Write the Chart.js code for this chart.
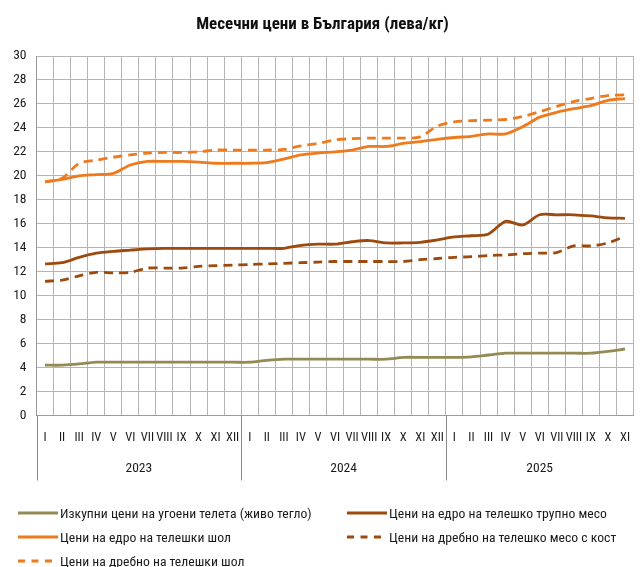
<!DOCTYPE html>
<html>
<head>
<meta charset="utf-8">
<script src="https://cdn.jsdelivr.net/npm/chart.js@4.4.1/dist/chart.umd.min.js"></script>
<style>
  html, body { margin: 0; padding: 0; background: #fff; overflow: hidden; }
  #wrap { position: relative; width: 642px; height: 567px; overflow: hidden; }
  #chart { position: absolute; left: 0; top: 0; }
  .lg { position: absolute; height: 18px; display: flex; align-items: center; white-space: nowrap;
        font-family: 'Roboto Condensed', 'Liberation Sans Narrow', sans-serif;
        font-size: 13.7px; color: #1a1a1a; }
  .lg svg { margin-right: 2px; }
</style>
</head>
<body>
<div id="wrap">
  <canvas id="chart" width="645" height="567"></canvas>
  <div id="legend"></div>
</div>
<script>
// Данни: месечни цени (лева/кг)
var months = ['I', 'II', 'III', 'IV', 'V', 'VI', 'VII', 'VIII', 'IX', 'X', 'XI', 'XII'];
var years = ['2023', '2024', '2025'];
var monthsPerYear = [12, 12, 11];

var seriesNames = [
    'Изкупни цени на угоени телета (живо тегло)',
    'Цени на едро на телешко трупно месо',
    'Цени на едро на телешки шол',
    'Цени на дребно на телешко месо с кост',
    'Цени на дребно на телешки шол'
];

var liveWeight = [
    4.2, 4.2, 4.3, 4.45, 4.45, 4.45, 4.45, 4.45, 4.45, 4.45, 4.45, 4.45,
    4.45, 4.6, 4.7, 4.7, 4.7, 4.7, 4.7, 4.7, 4.7, 4.85, 4.85, 4.85,
    4.85, 4.9, 5.05, 5.2, 5.2, 5.2, 5.2, 5.2, 5.2, 5.35, 5.55
];
var wholesaleCarcass = [
    12.65, 12.75, 13.2, 13.55, 13.7, 13.8, 13.9, 13.95, 13.95, 13.95, 13.95, 13.95,
    13.95, 13.95, 13.95, 14.2, 14.3, 14.3, 14.5, 14.6, 14.4, 14.4, 14.45, 14.65,
    14.9, 15.0, 15.15, 16.2, 15.9, 16.75, 16.75, 16.75, 16.65, 16.5, 16.45
];
var wholesaleShol = [
    19.5, 19.7, 20.0, 20.1, 20.2, 20.9, 21.2, 21.2, 21.2, 21.15, 21.05, 21.05,
    21.05, 21.1, 21.4, 21.75, 21.9, 22.0, 22.15, 22.45, 22.45, 22.7, 22.85, 23.05,
    23.2, 23.3, 23.5, 23.5, 24.1, 24.9, 25.3, 25.6, 25.85, 26.3, 26.45
];
var retailBone = [
    11.2, 11.3, 11.65, 11.95, 11.9, 11.95, 12.3, 12.3, 12.3, 12.45, 12.5, 12.55,
    12.6, 12.65, 12.7, 12.75, 12.8, 12.85, 12.85, 12.85, 12.85, 12.85, 13.0, 13.1,
    13.2, 13.25, 13.35, 13.4, 13.5, 13.55, 13.6, 14.15, 14.15, 14.4, 14.95
];
var retailShol = [
    19.5, 19.8, 21.05, 21.3, 21.55, 21.75, 21.9, 21.95, 21.95, 22.0, 22.15, 22.15,
    22.15, 22.15, 22.2, 22.5, 22.7, 23.0, 23.1, 23.15, 23.15, 23.15, 23.25, 24.15,
    24.5, 24.6, 24.65, 24.7, 24.95, 25.35, 25.8, 26.2, 26.45, 26.7, 26.75
];

// Етикети по месеци
var labels = [];
monthsPerYear.forEach(function (n) {
    for (var i = 0; i < n; i++) labels.push(months[i]);
});

var FONT = "'Roboto Condensed', 'Liberation Sans Narrow', sans-serif";
var DASH = [9, 6];

function makeSet(name, values, color, dashed) {
    return {
        label: name,
        data: values,
        borderColor: color,
        backgroundColor: color,
        borderWidth: 2.8,
        borderDash: dashed ? DASH : [],
        pointRadius: 0,
        tension: 0.3,
        fill: false
    };
}

// Години под оста и вертикални разделители
var yearLabels = {
    id: 'yearLabels',
    afterDraw: function (chart) {
        var ctx = chart.ctx;
        var x = chart.scales.x;
        var bottom = chart.chartArea.bottom;
        var half = (x.getPixelForValue(1) - x.getPixelForValue(0)) / 2;
        var start = 0;
        ctx.save();
        ctx.strokeStyle = '#8a8a8a';
        ctx.lineWidth = 1;
        ctx.fillStyle = '#1a1a1a';
        ctx.font = '13.5px ' + FONT;
        ctx.textAlign = 'center';
        ctx.textBaseline = 'middle';
        years.forEach(function (year, i) {
            var n = monthsPerYear[i];
            var left = x.getPixelForValue(start) - half;
            var right = x.getPixelForValue(start + n - 1) + half;
            var lx = Math.round(left) + 0.5;
            ctx.beginPath();
            ctx.moveTo(lx, bottom);
            ctx.lineTo(lx, bottom + 65);
            ctx.stroke();
            ctx.fillText(year, (left + right) / 2, bottom + 53);
            start += n;
        });
        ctx.restore();
    }
};

var ctx = document.getElementById('chart').getContext('2d');
var chart = new Chart(ctx, {
    type: 'line',
    data: {
        labels: labels,
        datasets: [
            makeSet(seriesNames[0], liveWeight, '#948a54', false),
            makeSet(seriesNames[1], wholesaleCarcass, '#9c4a0e', false),
            makeSet(seriesNames[2], wholesaleShol, '#ee7a1e', false),
            makeSet(seriesNames[3], retailBone, '#9c4a0e', true),
            makeSet(seriesNames[4], retailShol, '#ee7a1e', true)
        ]
    },
    options: {
        responsive: false,
        animation: false,
        layout: { padding: 0 },
        plugins: {
            legend: { display: false },
            tooltip: { enabled: false },
            title: {
                display: true,
                text: 'Месечни цени в България (лева/кг)',
                color: '#111',
                font: { family: FONT, size: 17, weight: 'bold' },
                padding: { top: 15, bottom: 20.6 }
            }
        },
        scales: {
            x: {
                offset: true,
                grid: { offset: true, color: '#b4b4b4', drawTicks: false },
                border: { color: '#9a9a9a' },
                ticks: {
                    autoSkip: false,
                    maxRotation: 0,
                    padding: 15,
                    color: '#1a1a1a',
                    font: { family: FONT, size: 12.5 }
                },
                afterFit: function (scale) { scale.height = 151.5; }
            },
            y: {
                min: 0,
                max: 30,
                ticks: {
                    stepSize: 2,
                    padding: 10,
                    color: '#1a1a1a',
                    font: { family: FONT, size: 13.5 }
                },
                grid: { color: '#b4b4b4', drawTicks: false },
                border: { color: '#9a9a9a' },
                afterFit: function (scale) { scale.width = 36.5; }
            }
        }
    },
    plugins: [yearLabels]
});

// Легенда в две колони
var legendPos = [[18, 513], [347, 513], [18, 537], [347, 537], [18, 561]];
var order = [0, 1, 2, 3, 4];
var legend = document.getElementById('legend');
order.forEach(function (idx, k) {
    var ds = chart.data.datasets[idx];
    var item = document.createElement('div');
    item.className = 'lg';
    item.style.left = legendPos[k][0] + 'px';
    item.style.top = (legendPos[k][1] - 9) + 'px';
    var dash = ds.borderDash.length ? 'stroke-dasharray="7 6.5"' : '';
    item.innerHTML = '<svg width="40" height="4"><line x1="0" y1="2" x2="40" y2="2" stroke="' +
        ds.borderColor + '" stroke-width="3" ' + dash + '/></svg><span>' + ds.label + '</span>';
    legend.appendChild(item);
});
</script>
</body>
</html>
